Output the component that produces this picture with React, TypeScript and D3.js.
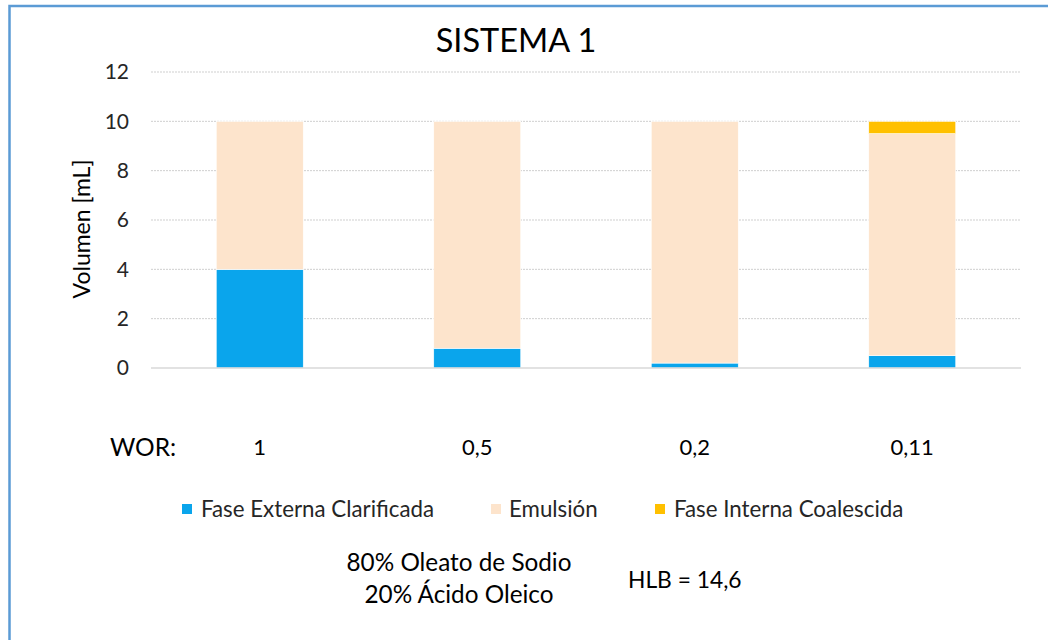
import React from "react";
import * as d3 from "d3";

// WOR ratios on the x axis
const categories: string[] = ["1", "0,5", "0,2", "0,11"];
// Stacked volumes in mL, bottom to top
const faseExterna: number[] = [4, 0.8, 0.2, 0.5];
const emulsion: number[] = [6, 9.2, 9.8, 9];
const faseInterna: number[] = [0, 0, 0, 0.5];
const yTicks: number[] = [0, 2, 4, 6, 8, 10, 12];

const seriesNames: string[] = ["Fase Externa Clarificada", "Emulsión", "Fase Interna Coalescida"];
const seriesColors: string[] = ["#0AA5EC", "#FDE4CC", "#FFC000"];

const W = 1048;
const H = 640;
const FONT = "Lato, 'Open Sans', sans-serif";

export default function App() {
  const plot = { left: 151, right: 1021, top: 72, bottom: 368 };
  const x = d3
    .scaleBand<string>()
    .domain(categories)
    .range([plot.left, plot.right])
    .paddingInner(0.6)
    .paddingOuter(0.3);
  const y = d3.scaleLinear().domain([0, 12]).range([plot.bottom, plot.top]);

  const rows = categories.map((c, i) => ({
    cat: c,
    a: faseExterna[i],
    b: emulsion[i],
    c: faseInterna[i],
  }));
  const stack = d3.stack<any>().keys(["a", "b", "c"]);
  const layers = stack(rows);

  const legendItems = [
    { sx: 182, tx: 201 },
    { sx: 491, tx: 509 },
    { sx: 655, tx: 674 },
  ];

  return (
    <div style={{ position: "absolute", left: 0, top: 0 }}>
      <svg width={W} height={H} style={{ display: "block", background: "#fff" }}>
        <rect x={9.5} y={6} width={W + 20} height={H + 20} fill="#fff" stroke="#5B9BD5" strokeWidth={2.5} />

        <text x={516} y={41} dy="0.35em" textAnchor="middle" fontFamily={FONT} fontSize={32.5} fill="#000">
          SISTEMA 1
        </text>

        {yTicks.map((t) =>
          t === 0 ? null : (
            <line
              key={"g" + t}
              x1={plot.left}
              x2={plot.right}
              y1={y(t)}
              y2={y(t)}
              stroke="#CFCFCF"
              strokeWidth={1}
              strokeDasharray="2,1"
            />
          )
        )}

        {layers.map((layer, li) =>
          layer.map((d, i) =>
            d[1] - d[0] > 0 ? (
              <rect
                key={li + "-" + i}
                x={x(categories[i])}
                y={y(d[1])}
                width={x.bandwidth()}
                height={y(d[0]) - y(d[1])}
                fill={seriesColors[li]}
                stroke="#ffffff"
                strokeWidth={0.6}
              />
            ) : null
          )
        )}

        <line x1={plot.left} x2={plot.right} y1={y(0)} y2={y(0)} stroke="#D9D9D9" strokeWidth={1.5} />

        {yTicks.map((t) => (
          <text
            key={"t" + t}
            x={129}
            y={y(t)}
            dy="0.35em"
            textAnchor="end"
            fontFamily={FONT}
            fontSize={21}
            fill="#262626"
          >
            {t}
          </text>
        ))}

        <text
          transform={`translate(90,229) rotate(-90)`}
          textAnchor="middle"
          fontFamily={FONT}
          fontSize={23}
          fill="#000"
        >
          Volumen [mL]
        </text>

        <text x={110} y={447} dy="0.35em" fontFamily={FONT} fontSize={24.5} fill="#000">
          WOR:
        </text>
        {categories.map((c) => (
          <text
            key={"c" + c}
            x={(x(c) as number) + x.bandwidth() / 2}
            y={447}
            dy="0.35em"
            textAnchor="middle"
            fontFamily={FONT}
            fontSize={22}
            fill="#000"
          >
            {c}
          </text>
        ))}

        {seriesNames.map((n, i) => (
          <g key={"l" + i}>
            <rect x={legendItems[i].sx} y={504} width={10} height={10} fill={seriesColors[i]} />
            <text x={legendItems[i].tx} y={509} dy="0.35em" fontFamily={FONT} fontSize={22.3} fill="#262626">
              {n}
            </text>
          </g>
        ))}

        <text x={459} y={562} dy="0.35em" textAnchor="middle" fontFamily={FONT} fontSize={24.3} fill="#000">
          80% Oleato de Sodio
        </text>
        <text x={459} y={594} dy="0.35em" textAnchor="middle" fontFamily={FONT} fontSize={24.3} fill="#000">
          20% Ácido Oleico
        </text>
        <text x={628} y={580} dy="0.35em" fontFamily={FONT} fontSize={22.8} fill="#000">
          HLB = 14,6
        </text>
      </svg>
    </div>
  );
}
